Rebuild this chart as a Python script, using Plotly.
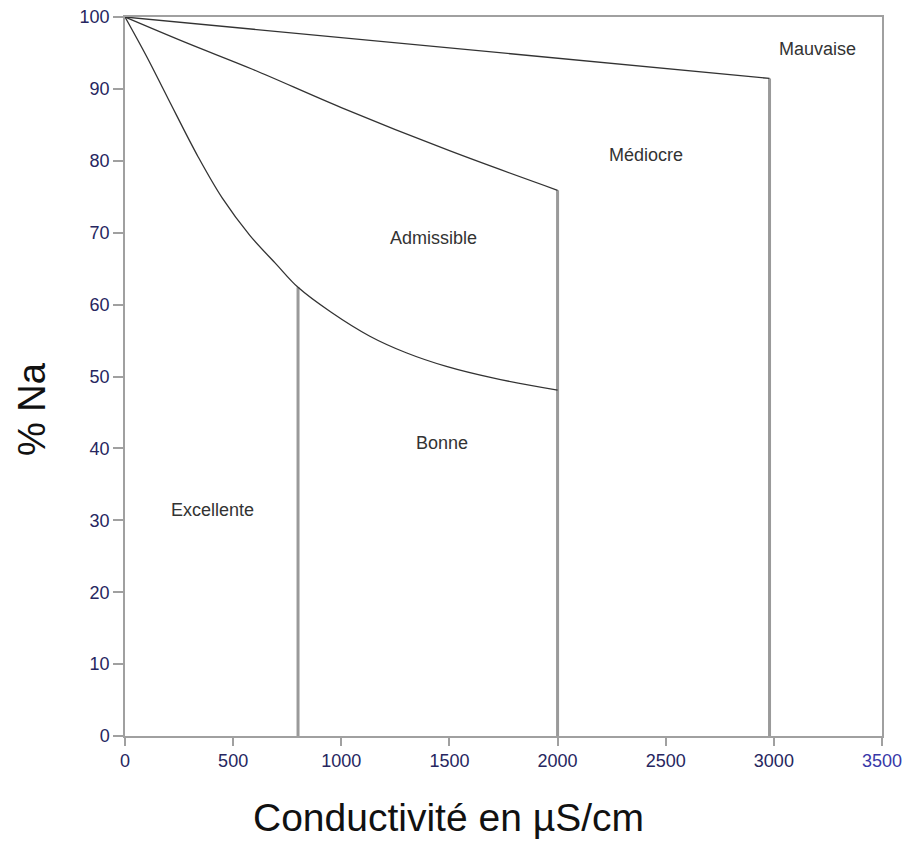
import plotly.graph_objects as go

# ---- data ----
lower_x = [0, 100, 200, 339, 450, 578, 700, 800, 950, 1132, 1300, 1486, 1700, 2000]
lower_y = [100, 94.5, 88.6, 80.5, 74.8, 69.6, 65.6, 62.4, 59.0, 55.6, 53.3, 51.4, 49.8, 48.1]

middle_x = [0, 285, 592, 1000, 1500, 2000]
middle_y = [100, 96.4, 92.7, 87.4, 81.4, 75.9]

upper_x = [0, 2980]
upper_y = [100, 91.45]

vline_x = [800, 2000, 2980]
vline_top = [62.4, 75.9, 91.45]

region_names = ["Excellente", "Bonne", "Admissible", "Médiocre", "Mauvaise"]
region_x = [404, 1465, 1428, 2410, 3203]
region_y = [31.4, 40.7, 69.2, 80.75, 95.6]

x_ticks = [0, 500, 1000, 1500, 2000, 2500, 3000, 3500]
y_ticks = [0, 10, 20, 30, 40, 50, 60, 70, 80, 90, 100]

FONT = "Liberation Sans, Arial, sans-serif"
TICK_COL = "#262660"

fig = go.Figure()

for vx, vt in zip(vline_x, vline_top):
    fig.add_trace(go.Scatter(x=[vx, vx], y=[0, vt], mode="lines",
                             line=dict(color="#9a9a9a", width=3),
                             hoverinfo="skip", showlegend=False))

for xs, ys in [(lower_x, lower_y), (middle_x, middle_y), (upper_x, upper_y)]:
    fig.add_trace(go.Scatter(x=xs, y=ys, mode="lines",
                             line=dict(color="#333333", width=1.3, shape="spline", smoothing=1.0),
                             hoverinfo="skip", showlegend=False))

for name, rx, ry in zip(region_names, region_x, region_y):
    fig.add_annotation(x=rx, y=ry, text=name, showarrow=False,
                       font=dict(family=FONT, size=18, color="#333333"))

x_ticktext = [str(t) if t != 3500 else "<span style='color:#3838a8'>3500</span>" for t in x_ticks]

fig.update_xaxes(range=[0, 3500], tickvals=x_ticks, ticktext=x_ticktext,
                 showgrid=False, zeroline=False, automargin=False,
                 showline=True, linecolor="#a0a0a0", linewidth=1.5, mirror=True,
                 ticks="outside", ticklen=8, tickcolor="#a0a0a0", tickwidth=1.5,
                 tickfont=dict(family=FONT, size=18, color=TICK_COL))
fig.update_yaxes(range=[0, 100], tickvals=y_ticks,
                 showgrid=False, zeroline=False, automargin=False,
                 showline=True, linecolor="#a0a0a0", linewidth=1.5, mirror=True,
                 ticks="outside", ticklen=10, tickcolor="#a0a0a0", tickwidth=1.5,
                 tickfont=dict(family=FONT, size=18, color=TICK_COL))

fig.add_annotation(xref="paper", yref="paper", x=0.4267, y=-0.146,
                   text="Conductivité en µS/cm", showarrow=False,
                   font=dict(family=FONT, size=39, color="#111111"))
fig.add_annotation(xref="paper", yref="paper", x=-0.153, y=0.455,
                   text="% Na", showarrow=False, textangle=-90,
                   font=dict(family=FONT, size=38, color="#111111"))

fig.update_layout(width=907, height=841,
                  margin=dict(l=125, r=25, t=17, b=105),
                  plot_bgcolor="white", paper_bgcolor="white")

fig.write_html("out.html")
